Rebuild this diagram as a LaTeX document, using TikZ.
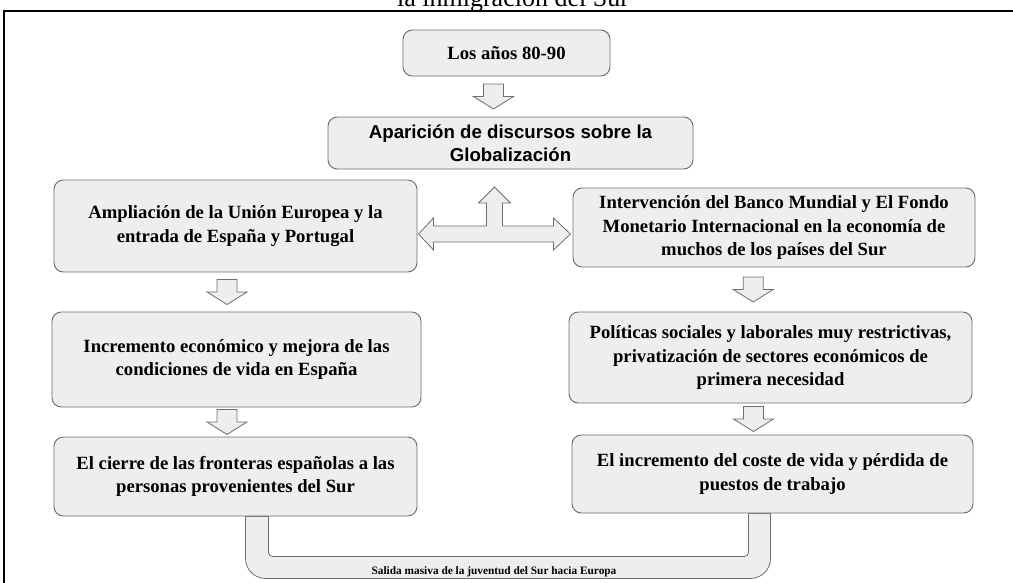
\documentclass[tikz,border=0pt]{standalone}
\usepackage{fontspec}
\setmainfont{Liberation Serif}
\newfontfamily\arialfont{Liberation Sans}
\usepackage{xcolor}
\usepackage{tikz}
\usetikzlibrary{calc,backgrounds}
\definecolor{boxgray}{HTML}{EEEEEE}
\definecolor{edgegray}{HTML}{6E6E6E}

% hollow block arrow pointing down, between two boxes
\newcommand{\fatdown}[3][0]{%
  \draw[fat] ($(#2.south)!.5!(#3.north)+(#1-10,-12.5)$) -- ++(20,0) -- ++(0,12.5)
    -- ++(10,0) -- ++(-20,12.5) -- ++(-20,-12.5) -- ++(10,0) -- cycle;}

\begin{document}
\begin{tikzpicture}[x=0.75pt,y=-0.75pt,
   box/.style={draw=edgegray,fill=boxgray,rounded corners=7pt,line width=0.7pt,
               align=center,inner sep=0pt,font=\fontsize{14}{17.5}\selectfont\bfseries},
   fat/.style={draw=edgegray,fill=boxgray,line width=0.6pt}]
  \useasboundingbox (0,0) rectangle (1013,582);
  \clip (0,0) rectangle (1013,582);
  \node[font=\fontsize{19.5}{22}\selectfont,anchor=base] (title) at (513,6) {la inmigración del Sur};
  \draw[line width=2pt] (4,590) -- (4,11) -- (1020,11);

  \node[box,minimum width=155.25pt,minimum height=34.5pt] (years) at (506.5,53) {Los años 80-90};
  \node[box,minimum width=273.75pt,minimum height=39pt,
        font=\fontsize{14}{17}\selectfont\arialfont\bfseries] (glob) at (510.5,143)
       {Aparición de discursos sobre la\\Globalización};
  \node[box,minimum width=272.25pt,minimum height=69pt] (ue) at (235.5,226)
       {Ampliación de la Unión Europea y la\\entrada de España y Portugal};
  \node[box,minimum width=301.5pt,minimum height=59.25pt] (fmi) at (774,227.5)
       {Intervención del Banco Mundial y El Fondo\\Monetario Internacional en la economía de\\muchos de los países del Sur};
  \node[box,minimum width=276.75pt,minimum height=71.25pt] (growth) at (236.5,359.5)
       {Incremento económico y mejora de las\\condiciones de vida en España};
  \node[box,minimum width=272.25pt,minimum height=59.25pt] (borders) at (235.5,476.5)
       {El cierre de las fronteras españolas a las\\personas provenientes del Sur};
  \node[box,minimum width=302.25pt,minimum height=68.25pt] (policy) at (770.5,357.5)
       {Políticas sociales y laborales muy restrictivas,\\privatización de sectores económicos de\\primera necesidad};
  \node[box,minimum width=300.75pt,minimum height=58.5pt] (cost) at (772.5,474)
       {El incremento del coste de vida y pérdida de\\puestos de trabajo};

  \fatdown[-15]{years}{glob}
  \fatdown[-9]{ue}{growth}
  \fatdown[-9]{growth}{borders}
  \fatdown[-19]{fmi}{policy}
  \fatdown[-18]{policy}{cost}

  % double arrow with the branch up to glob
  \draw[fat] ($(ue.east)+(1,8)$) -- ++(15,-16) -- ++(0,8) -- ++(53,0) -- ++(0,-23)
    -- ++(-8,0) -- ++(16,-16) -- ++(16,16) -- ++(-8,0) -- ++(0,23) -- ++(51,0)
    -- ++(0,-8) -- ++(17,16) -- ++(-17,16) -- ++(0,-8) -- ++(-120,0) -- ++(0,8) -- cycle;

  % band joining the two bottom boxes
  \begin{scope}[on background layer]
    \coordinate (bl) at ($(borders.south)+(10,0)$);
    \coordinate (br) at ($(cost.south)+(-2,0)$);
    \coordinate (bot) at ($(borders.south)+(0,62)$);
    \draw[fat] (bl) [rounded corners=15pt] -- (bl |- bot) -- (br |- bot) [sharp corners]
      -- (br) -- ++(-22,0) [rounded corners=3pt] -- ($(br)+(-22,43)$)
      -- ($(bl)+(23,40)$) [sharp corners] -- ($(bl)+(23,0)$) -- cycle;
  \end{scope}
  \node[font=\fontsize{8.5}{10}\selectfont\bfseries] (exit)
       at ($(bl |- bot)!.5!(br |- bot)+(-14,-7)$) {Salida masiva de la juventud del Sur hacia Europa};
\end{tikzpicture}
\end{document}
